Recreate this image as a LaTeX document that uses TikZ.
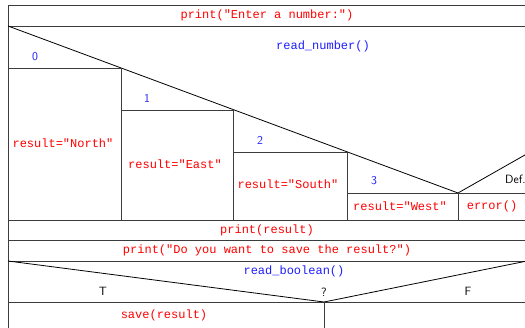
\documentclass[tikz,border=0pt]{standalone}
\usepackage{fontspec}
\setmainfont{Liberation Sans}
\setmonofont{Liberation Mono}
\usepackage{tikz}
\usetikzlibrary{positioning}
\definecolor{CodeRed}{RGB}{255,0,0}
\definecolor{CodeBlue}{RGB}{30,30,255}
\definecolor{FrameGray}{RGB}{60,60,60}

\begin{document}
\begin{tikzpicture}[
  x=1pt, y=-1pt,
  frame/.style={draw=FrameGray, line width=0.9pt},
  diag/.style={draw=black, line width=0.8pt},
  stmt/.style={
    text=CodeRed,
    font=\fontsize{12}{14}\selectfont\ttfamily,
    inner sep=0pt
  },
  call/.style={
    text=CodeBlue,
    font=\fontsize{12}{14}\selectfont\ttfamily,
    inner sep=0pt
  },
  branch/.style={
    text=CodeBlue,
    font=\fontsize{12}{14}\selectfont\sffamily,
    inner sep=0pt
  },
  flag/.style={
    text=black,
    font=\fontsize{12}{14}\selectfont\sffamily,
    inner sep=0pt
  }
]
\useasboundingbox[fill=white] (0,0) rectangle (525,328);
\clip (0,0) rectangle (525,328);

\draw[frame] (8,5) -- (560,5);
\draw[frame] (8,26) -- (560,26);
\draw[frame] (8,220) -- (560,220);
\draw[frame] (8,240) -- (560,240);
\draw[frame] (8,261) -- (560,261);
\draw[frame] (8,302) -- (560,302);
\draw[frame] (8,5) -- (8,340);

\draw[diag] (8,26) -- (458,193) -- (752,26);
\draw[frame] (8,68) -- (121,68) -- (121,220);
\draw[frame] (121,110) -- (233,110) -- (233,220);
\draw[frame] (233,152) -- (347,152) -- (347,220);
\draw[frame] (347,193) -- (560,193);
\draw[frame] (458,193) -- (458,220);

\draw[diag] (8,261) -- (324,302) -- (527,261);
\draw[frame] (324,302) -- (324,340);

\node[stmt] (prompt) at (267,15) {print("Enter a number:")};
\node[call] (readnum) at (323,46) {read\_number()};

\node[branch] (case0) at (35,57) {0};
\node[branch] (case1) at (147,98) {1};
\node[branch] (case2) at (260,140) {2};
\node[branch] (case3) at (374,181) {3};
\node[flag, anchor=west] (casedef) at (505,179) {Def.};

\node[stmt] (north) at (63,143) {result="North"};
\node[stmt] (east) at (175,164) {result="East"};
\node[stmt] (south) at (288,184) {result="South"};
\node[stmt] (west) at (400,206) {result="West"};
\node[stmt] (failure) at (492,206) {error()};

\node[stmt] (printres) at (267,230) {print(result)};
\node[stmt] (ask) at (267,250) {print("Do you want to save the result?")};

\node[call] (readbool) at (294,271) {read\_boolean()};
\node[flag] (yes) at (103,291) {T};
\node[flag] (cond) at (324,292) {?};
\node[flag] (no) at (468,291) {F};

\node[stmt] (store) at (164,315) {save(result)};
\end{tikzpicture}
\end{document}
